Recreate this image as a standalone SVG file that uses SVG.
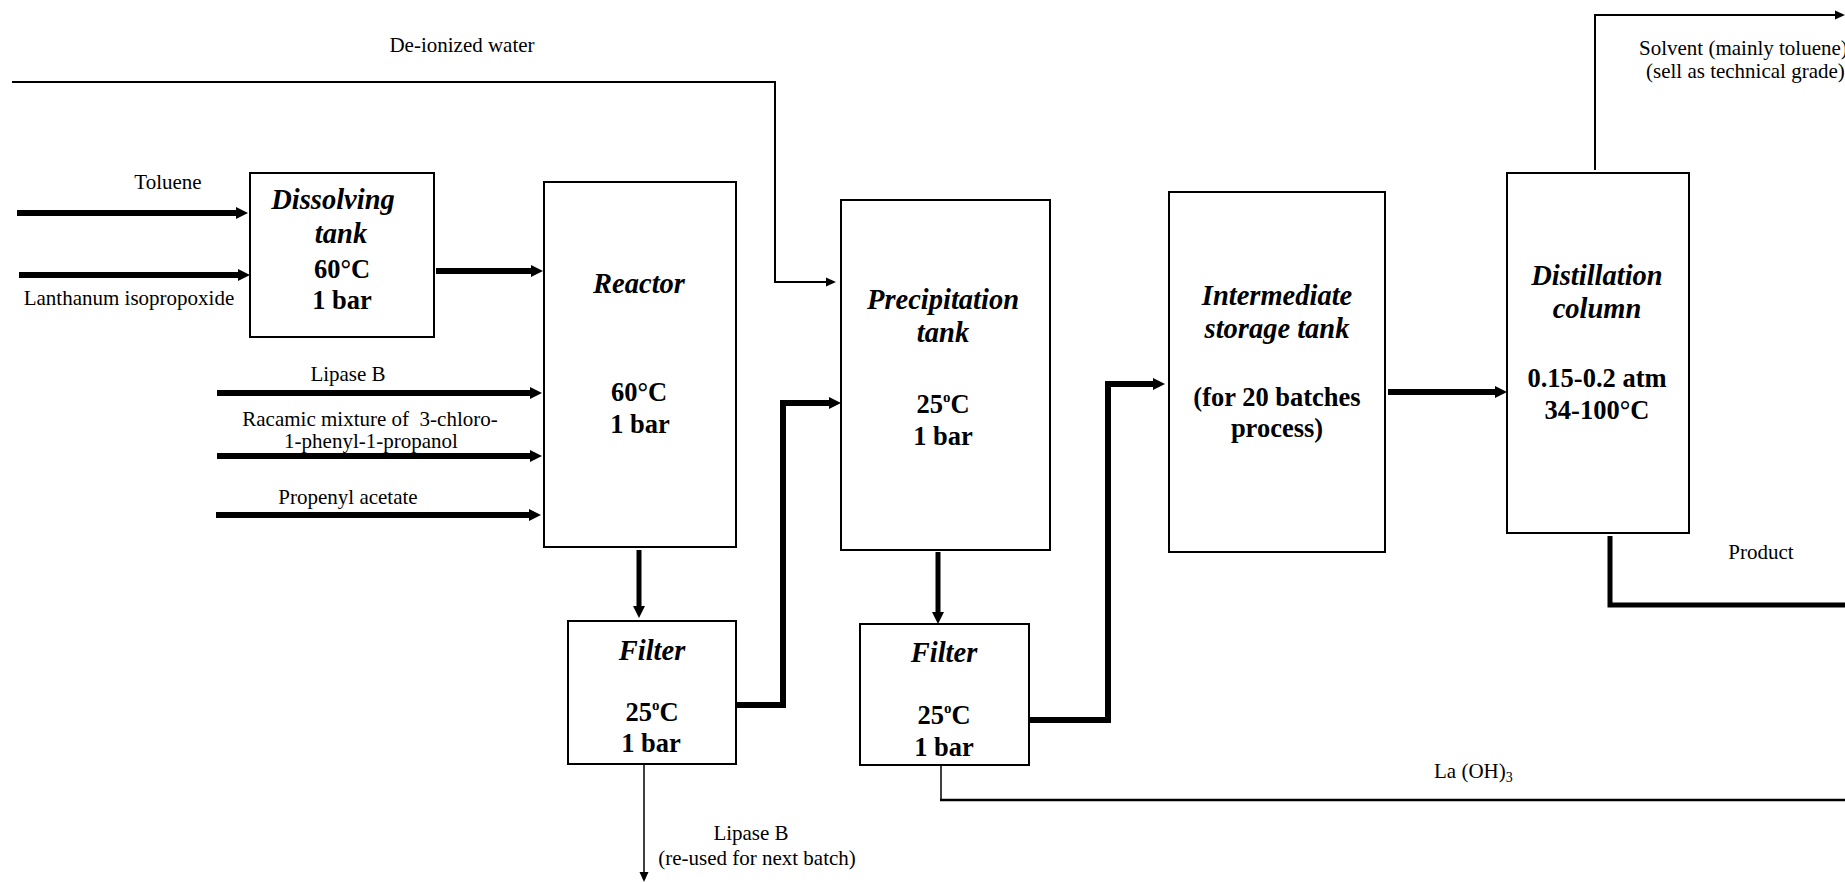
<svg xmlns="http://www.w3.org/2000/svg" width="1845" height="882" viewBox="0 0 1845 882">
<style>
.box{fill:#fff;stroke:#000;stroke-width:2}
.lbl{font-family:"Liberation Serif","Times New Roman",serif;font-size:21px;fill:#000}
.ttl{font-family:"Liberation Serif","Times New Roman",serif;font-size:28.5px;font-weight:bold;font-style:italic;fill:#000;text-anchor:middle}
.val{font-family:"Liberation Serif","Times New Roman",serif;font-size:26.5px;font-weight:bold;fill:#000;text-anchor:middle}
.thick{fill:none;stroke:#000;stroke-width:6;marker-end:url(#ah)}
.thin{fill:none;stroke:#000;stroke-width:2;marker-end:url(#ahs)}
.mid{text-anchor:middle}
</style>
<defs>
<marker id="ah" markerUnits="userSpaceOnUse" markerWidth="12" markerHeight="12" refX="0" refY="6" orient="auto" overflow="visible">
<path d="M0,0 L12,6 L0,12 z" fill="#000"/>
</marker>
<marker id="ahs" markerUnits="userSpaceOnUse" markerWidth="10" markerHeight="9" refX="0" refY="4.5" orient="auto" overflow="visible">
<path d="M0,0 L10,4.5 L0,9 z" fill="#000"/>
</marker>
</defs>
<rect width="1845" height="882" fill="#fff"/>

<g id="connectors">
<path class="thin" d="M12,82 H775 V282 H826"/>
<path class="thick" d="M17,213 H236"/>
<path class="thick" d="M19,275 H238"/>
<path class="thick" d="M436,271 H531"/>
<path class="thick" d="M217,393 H530"/>
<path class="thick" d="M217,456 H530"/>
<path class="thick" d="M216,515 H529"/>
<path class="thick" d="M639,550 V606" style="stroke-width:5"/>
<path class="thick" d="M736,705 H783 V403 H829"/>
<path class="thin" d="M644,765 V872" style="stroke-width:1.5"/>
<path class="thick" d="M938,552 V612" style="stroke-width:5"/>
<path class="thick" d="M1029,720 H1108 V384 H1153"/>
<path class="thick" d="M1388,392 H1495"/>
<path class="thin" d="M1595,170 V15 H1835"/>
<path d="M1610,536 V605 H1845" fill="none" stroke="#000" stroke-width="5"/>
<path d="M941,766 V800" fill="none" stroke="#000" stroke-width="1.5"/>
<path d="M940,800 H1845" fill="none" stroke="#000" stroke-width="2.5"/>
</g>

<g id="labels">
<text class="lbl mid" x="462" y="52">De-ionized water</text>
<text class="lbl mid" x="168" y="189">Toluene</text>
<text class="lbl mid" x="129" y="305">Lanthanum isopropoxide</text>
<text class="lbl mid" x="348" y="381">Lipase B</text>
<text class="lbl mid" x="370" y="426">Racamic mixture of &#160;3-chloro-</text>
<text class="lbl mid" x="371" y="448">1-phenyl-1-propanol</text>
<text class="lbl mid" x="348" y="504">Propenyl acetate</text>
<text class="lbl mid" x="751" y="840">Lipase B</text>
<text class="lbl mid" x="757" y="865">(re-used for next batch)</text>
<text class="lbl" x="1639" y="55">Solvent (mainly toluene)</text>
<text class="lbl" x="1646" y="78">(sell as technical grade)</text>
<text class="lbl mid" x="1761" y="559">Product</text>
<text class="lbl" x="1434" y="778">La (OH)<tspan font-size="14" dy="4">3</tspan></text>
</g>

<g id="dissolving-tank">
<rect class="box" x="250" y="173" width="184" height="164"/>
<text class="ttl" x="333" y="209">Dissolving</text>
<text class="ttl" x="341" y="243">tank</text>
<text class="val" x="342" y="278">60°C</text>
<text class="val" x="342" y="309">1 bar</text>
</g>

<g id="reactor">
<rect class="box" x="544" y="182" width="192" height="365"/>
<text class="ttl" x="639" y="293">Reactor</text>
<text class="val" x="639" y="401">60°C</text>
<text class="val" x="640" y="433">1 bar</text>
</g>

<g id="filter-1">
<rect class="box" x="568" y="621" width="168" height="143"/>
<text class="ttl" x="652" y="660">Filter</text>
<text class="val" x="652" y="721">25<tspan font-size="15" dy="-11">o</tspan><tspan dy="11">C</tspan></text>
<text class="val" x="651" y="752">1 bar</text>
</g>

<g id="precipitation-tank">
<rect class="box" x="841" y="200" width="209" height="350"/>
<text class="ttl" x="943" y="309">Precipitation</text>
<text class="ttl" x="943" y="342">tank</text>
<text class="val" x="943" y="413">25<tspan font-size="15" dy="-11">o</tspan><tspan dy="11">C</tspan></text>
<text class="val" x="943" y="445">1 bar</text>
</g>

<g id="filter-2">
<rect class="box" x="860" y="624" width="169" height="141"/>
<text class="ttl" x="944" y="662">Filter</text>
<text class="val" x="944" y="724">25<tspan font-size="15" dy="-11">o</tspan><tspan dy="11">C</tspan></text>
<text class="val" x="944" y="756">1 bar</text>
</g>

<g id="intermediate-storage-tank">
<rect class="box" x="1169" y="192" width="216" height="360"/>
<text class="ttl" x="1277" y="305">Intermediate</text>
<text class="ttl" x="1277" y="338">storage tank</text>
<text class="val" x="1277" y="406">(for 20 batches</text>
<text class="val" x="1277" y="437">process)</text>
</g>

<g id="distillation-column">
<rect class="box" x="1507" y="173" width="182" height="360"/>
<text class="ttl" x="1597" y="285">Distillation</text>
<text class="ttl" x="1597" y="318">column</text>
<text class="val" x="1597" y="387">0.15-0.2 atm</text>
<text class="val" x="1597" y="419">34-100°C</text>
</g>
</svg>
